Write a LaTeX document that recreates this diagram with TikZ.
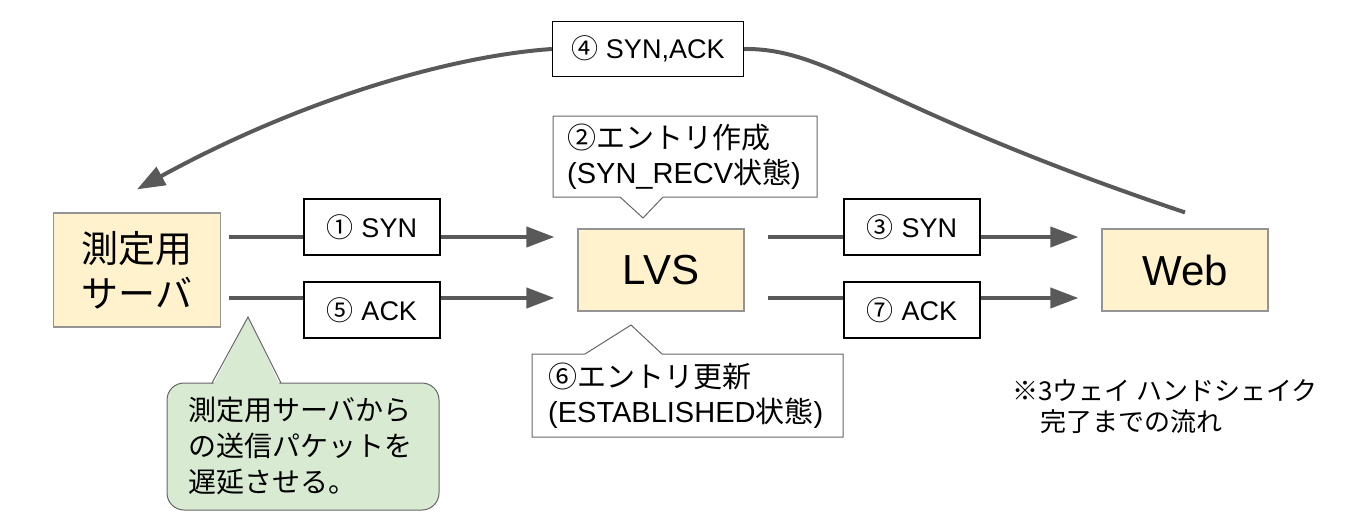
\documentclass[tikz,border=0pt]{standalone}
\usepackage{fontspec}
\setmainfont{Liberation Sans}
\newfontfamily\jp{Noto Sans CJK JP}
\usetikzlibrary{arrows.meta}
\definecolor{linegray}{HTML}{595959}
\definecolor{edgegray}{HTML}{666666}
\definecolor{hostfill}{HTML}{FFF2CC}
\definecolor{delayfill}{HTML}{D9EAD3}

\begin{document}
\begin{tikzpicture}[x=1pt,y=-1pt,
    host/.style={draw=edgegray!70,line width=1.2pt,fill=hostfill,inner sep=0pt,align=center},
    msg/.style={draw=black,line width=1.3pt,fill=white,minimum height=56pt,inner sep=0pt,font=\fontsize{27}{32}\selectfont},
    flow/.style={draw=linegray,line width=4pt,-{Triangle[length=28pt,width=20pt]}},
    bubble/.style={draw=edgegray,line width=1pt,fill=white},
    txt/.style={anchor=west,align=left,inner sep=0pt,font=\fontsize{29}{35}\selectfont}]
  \useasboundingbox (0,0) rectangle (1345,530);
  \node[host,minimum width=167pt,minimum height=114pt,font=\jp\fontsize{37}{45}\selectfont] (srv) at (137,270) {測定用\\サーバ};
  \node[host,minimum width=166pt,minimum height=82pt,font=\fontsize{42}{50}\selectfont] (lvs) at (661,270) {LVS};
  \node[host,minimum width=166pt,minimum height=82pt,font=\fontsize{42}{50}\selectfont] (web) at (1185,270) {Web};
  \coordinate (r1) at (0,237);
  \coordinate (r2) at (0,298);
  \draw[flow] ([xshift=8pt]srv.east |- r1) -- ([xshift=-23pt]lvs.west |- r1);
  \draw[flow] ([xshift=8pt]srv.east |- r2) -- ([xshift=-23pt]lvs.west |- r2);
  \draw[flow] ([xshift=23pt]lvs.east |- r1) -- ([xshift=-23pt]web.west |- r1);
  \draw[flow] ([xshift=23pt]lvs.east |- r2) -- ([xshift=-23pt]web.west |- r2);
  \node[msg,minimum width=136pt] (syn1) at (372,227) {{\jp ①} SYN};
  \node[msg,minimum width=136pt] (ack5) at (372,310) {{\jp ⑤} ACK};
  \node[msg,minimum width=136pt] (syn3) at (912,227) {{\jp ③} SYN};
  \node[msg,minimum width=136pt] (ack7) at (912,310) {{\jp ⑦} ACK};
  \node[msg,minimum width=191pt,minimum height=55pt] (synack) at (648,49) {{\jp ④} SYN,ACK};
  \draw[draw=linegray,line width=4pt] ([yshift=16pt]web.north) .. controls (880,110) and (830,48) .. (synack.east);
  \draw[flow] (synack.west) .. controls (450,56) and (300,100) .. ([yshift=23pt]srv.north);
  \filldraw[bubble] (553,116) -- (817,116) -- (817,197) -- (663,197) -- (643,218) -- (620,197) -- (553,197) -- cycle;
  \node[txt] (create) at (567,157) {{\jp ②エントリ作成}\\(SYN\_RECV{\jp 状態})};
  \filldraw[bubble] (532,354) -- (585,354) -- (631,325) -- (662,354) -- (843,354) -- (843,437) -- (532,437) -- cycle;
  \node[txt] (update) at (548,396) {{\jp ⑥エントリ更新}\\(ESTABLISHED{\jp 状態})};
  \filldraw[draw=edgegray,line width=1pt,fill=delayfill,rounded corners=17pt] (167,383) rectangle (439,510);
  \fill[delayfill] (213,385) -- (248,317) -- (280,385) -- cycle;
  \draw[edgegray,line width=1pt] (212,383) -- (248,317) -- (281,383);
  \node[txt,font=\jp\fontsize{28}{36}\selectfont] (delay) at (188,446) {測定用サーバから\\の送信パケットを\\遅延させる。};
  \node[txt,font=\jp\fontsize{26}{31}\selectfont] (flowNote) at (1012,407) {※3ウェイ ハンドシェイク\\\hspace*{28pt}完了までの流れ};
\end{tikzpicture}
\end{document}
